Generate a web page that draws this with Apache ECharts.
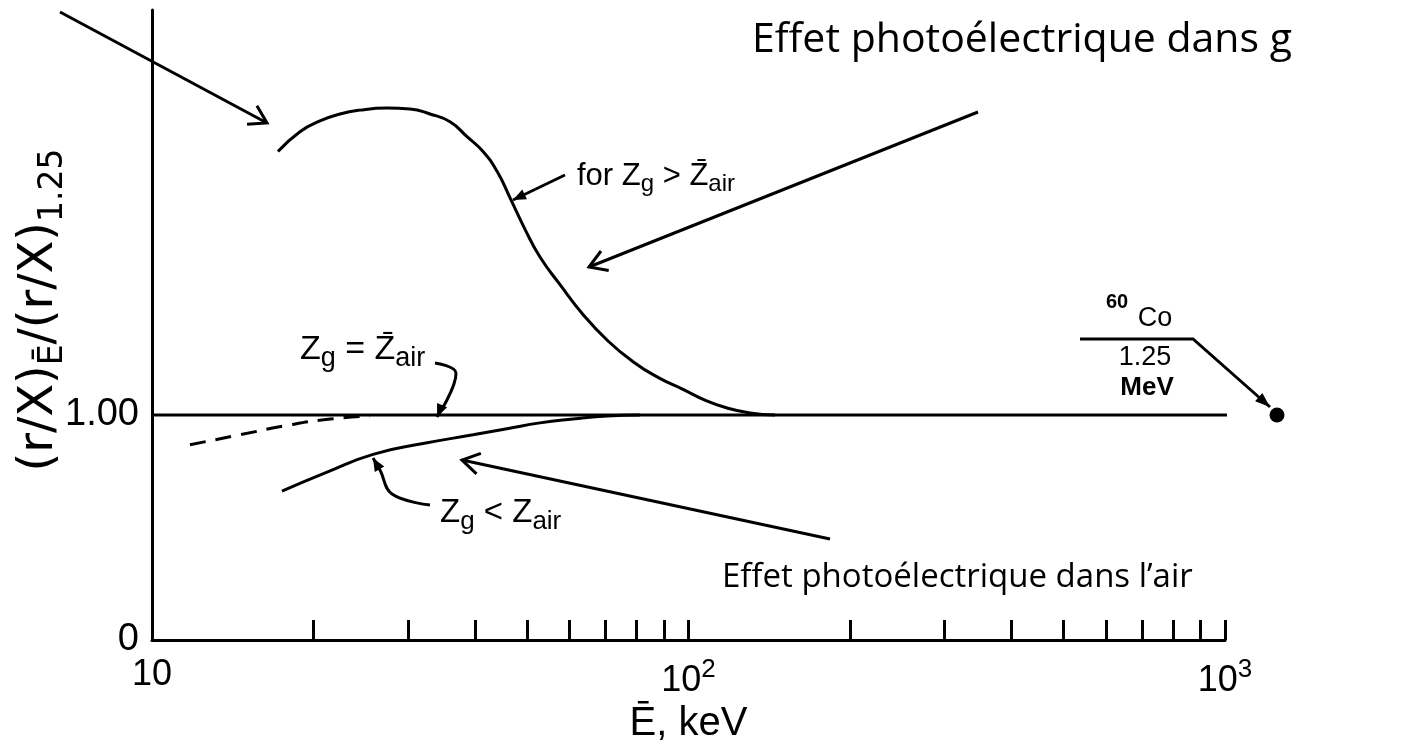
<!DOCTYPE html>
<html>
<head>
<meta charset="utf-8">
<script src="https://cdn.jsdelivr.net/npm/echarts@6/dist/echarts.min.js"></script>
<style>
html,body{margin:0;padding:0;background:#fff;}
#chart{width:1422px;height:749px;}
</style>
</head>
<body>
<div id="chart"></div>
<script>
// ---- data (E in keV, ratio) ----
const upperCurve = [[17.17,2.171],[18.87,2.259],[20.56,2.307],[22.41,2.338],[24.42,2.355],[27.42,2.364],[30.26,2.360],[32.97,2.338],[35.93,2.303],[38.65,2.237],[41.40,2.171],[43.97,2.083],[46.49,1.965],[49.58,1.825],[52.87,1.702],[57.62,1.579],[63.58,1.447],[70.79,1.329],[78.80,1.237],[87.72,1.167],[97.67,1.114],[107.3,1.066],[118.0,1.031],[130.2,1.009],[145.0,1.0]];
const lowerCurve = [[17.47,0.662],[21.20,0.746],[25.82,0.825],[32.00,0.873],[39.66,0.912],[45.89,0.939],[52.87,0.965],[60.91,0.982],[70.49,0.996],[81.20,1.0]];
const dashedCurve = [[11.77,0.868],[14.59,0.912],[18.08,0.956],[21.47,0.982],[25.49,0.996]];
const equalLine = [[10,1.0],[1250,1.0]];
const co60Point = [[1250,1.0]];
const xMinorTicks = [20,30,40,50,60,70,80,90,100,200,300,400,500,600,700,800,900,1000];
const xTickLabels = [10,100,1000];
const yTickLabels = [0,1];

const FONT = 'Liberation Sans';
const chart = echarts.init(document.getElementById('chart'));

function openArrow(x1,y1,x2,y2,len,ang,w){
  const t = Math.atan2(y1-y2,x1-x2);
  return [
    {type:'polyline',shape:{points:[[x1,y1],[x2,y2]]},style:{stroke:'#000',lineWidth:w,fill:null}},
    {type:'polyline',shape:{points:[[x2+len*Math.cos(t+ang),y2+len*Math.sin(t+ang)],[x2,y2],[x2+len*Math.cos(t-ang),y2+len*Math.sin(t-ang)]]},style:{stroke:'#000',lineWidth:w,fill:null}}
  ];
}
function filledArrowPath(pts,len,ang,w,smooth){
  const n = pts.length;
  const [x2,y2] = pts[n-1], [x1,y1] = pts[n-2];
  const t = Math.atan2(y1-y2,x1-x2);
  return [
    {type:'polyline',shape:{points:pts,smooth:smooth||0},style:{stroke:'#000',lineWidth:w,fill:null}},
    {type:'polygon',shape:{points:[[x2,y2],[x2+len*Math.cos(t+ang),y2+len*Math.sin(t+ang)],[x2+len*Math.cos(t-ang),y2+len*Math.sin(t-ang)]]},style:{fill:'#000'}}
  ];
}

const graphics = [].concat(
  openArrow(60,12,267,123,20,0.55,3),
  openArrow(978,112,589,267,20,0.55,3),
  openArrow(830,539,462,460,20,0.55,3),
  filledArrowPath([[565,175],[513,200]],14,0.4,3,0),
  filledArrowPath([[435,363],[456,373],[437,417]],14,0.4,3,0.4),
  filledArrowPath([[430,505],[392,494],[380,470],[373,458]],14,0.4,3,0.4),
  filledArrowPath([[1080,339],[1193,339],[1270,407]],16,0.35,3,0),
  [
    {type:'text',x:752,y:40,style:{text:'Effet photoélectrique dans g',font:'41px "Open Sans"',fill:'#000',verticalAlign:'middle'}},
    {type:'text',x:722,y:578,style:{text:'Effet photoélectrique dans l\u2019air',font:'33px "Open Sans"',fill:'#000',verticalAlign:'middle'}},
    {type:'text',x:577,y:176,style:{text:'{a|for Z}{s|g}{a| > Z\u0304}{s|air}',verticalAlign:'middle',rich:{a:{fontFamily:FONT,fontSize:31,fill:'#000'},s:{fontFamily:FONT,fontSize:24,fill:'#000',padding:[16,0,0,0]}}}},
    {type:'text',x:300,y:350,style:{text:'{a|Z}{s|g}{a| = Z\u0304}{s|air}',verticalAlign:'middle',rich:{a:{fontFamily:FONT,fontSize:34,fill:'#000'},s:{fontFamily:FONT,fontSize:27,fill:'#000',padding:[18,0,0,0]}}}},
    {type:'text',x:440,y:513,style:{text:'{a|Z}{s|g}{a| < Z}{s|air}',verticalAlign:'middle',rich:{a:{fontFamily:FONT,fontSize:33,fill:'#000'},s:{fontFamily:FONT,fontSize:26,fill:'#000',padding:[18,0,0,0]}}}},
    {type:'text',x:1117,y:302,style:{text:'60',font:'bold 20px "Liberation Sans"',fill:'#000',align:'center',verticalAlign:'middle'}},
    {type:'text',x:1155,y:319,style:{text:'Co',font:'27px "Liberation Sans"',fill:'#000',align:'center',verticalAlign:'middle'}},
    {type:'text',x:1145,y:358,style:{text:'1.25',font:'27px "Liberation Sans"',fill:'#000',align:'center',verticalAlign:'middle'}},
    {type:'text',x:1147,y:388,style:{text:'MeV',font:'bold 26px "Liberation Sans"',fill:'#000',align:'center',verticalAlign:'middle'}},
    {type:'text',x:40,y:310,rotation:Math.PI/2,style:{text:'{a|(r/X)}{s|\u0112}{a|/(r/X)}{s|1.25}',align:'center',verticalAlign:'middle',rich:{a:{fontFamily:'DejaVu Sans',fontSize:48,fill:'#000'},s:{fontFamily:'DejaVu Sans',fontSize:33,fill:'#000',padding:[26,0,0,0]}}}}
  ]
);

chart.setOption({
  animation:false,
  backgroundColor:'#fff',
  grid:{left:152,right:197,top:10,bottom:101},
  xAxis:{
    type:'log',logBase:10,min:10,max:1000,
    name:'\u0112, keV',nameLocation:'middle',nameGap:64,
    nameTextStyle:{fontFamily:FONT,fontSize:40,color:'#000',verticalAlign:'top'},
    axisLine:{show:true,lineStyle:{color:'#000',width:3}},
    axisTick:{show:true,inside:true,length:20,customValues:xMinorTicks,lineStyle:{color:'#000',width:3}},
    axisLabel:{show:true,customValues:xTickLabels,margin:17,color:'#000',fontFamily:FONT,fontSize:36,
      formatter:function(v){ if(v===10) return '{b|10}'; if(v===100) return '{b|10}{p|2}'; return '{b|10}{p|3}'; },
      rich:{b:{fontFamily:FONT,fontSize:36,color:'#000'},p:{fontFamily:FONT,fontSize:26,color:'#000',padding:[0,0,22,0]}}},
    splitLine:{show:false},minorTick:{show:false},minorSplitLine:{show:false}
  },
  yAxis:{
    type:'value',min:0,max:2.8,
    axisLine:{show:true,lineStyle:{color:'#000',width:3}},
    axisTick:{show:false},
    axisLabel:{show:true,customValues:yTickLabels,margin:13,color:'#000',fontFamily:FONT,fontSize:38,
      formatter:function(v){ return v===0?'0':'1.00'; }},
    splitLine:{show:false}
  },
  series:[
    {type:'line',data:upperCurve,smooth:0.5,symbol:'none',clip:false,lineStyle:{color:'#000',width:3}},
    {type:'line',data:equalLine,symbol:'none',clip:false,lineStyle:{color:'#000',width:3}},
    {type:'line',data:lowerCurve,smooth:0.5,symbol:'none',clip:false,lineStyle:{color:'#000',width:3}},
    {type:'line',data:dashedCurve,smooth:0.5,symbol:'none',clip:false,lineStyle:{color:'#000',width:3,type:[16,10]}},
    {type:'scatter',data:co60Point,symbol:'circle',symbolSize:15,clip:false,itemStyle:{color:'#000',opacity:1}}
  ],
  graphic:graphics
});
</script>
</body>
</html>
